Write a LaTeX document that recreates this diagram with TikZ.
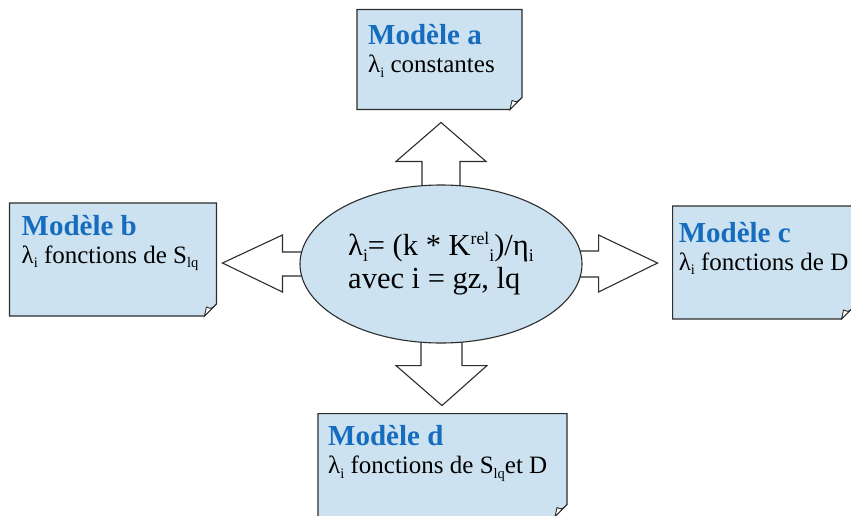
\documentclass[tikz,border=0pt]{standalone}
\usepackage{fontspec}
\setmainfont{Liberation Serif}
\usepackage{xcolor}
\usetikzlibrary{positioning, calc, backgrounds, shapes.geometric}

\definecolor{fondbleu}{RGB}{204,226,240}
\definecolor{titrebleu}{RGB}{22,108,190}
\definecolor{trait}{RGB}{45,45,45}

\newcommand{\modtitre}[1]{{\fontsize{29}{28}\selectfont\bfseries\color{titrebleu}#1}}
\newcommand{\ind}[1]{\raisebox{-0.4ex}{\scalebox{0.58}{#1}}}
\newcommand{\expo}[1]{\raisebox{0.8ex}{\scalebox{0.58}{#1}}}

\begin{document}
\begin{tikzpicture}[
  x=1pt, y=-1pt,
  eq/.style={ellipse, draw=trait, line width=1.1pt, fill=fondbleu, minimum width=282pt, minimum height=158pt, inner sep=0pt, align=left, font=\fontsize{30.5}{33}\selectfont},
  boite/.style={inner sep=0pt, outer sep=0pt},
  txt/.style={anchor=north west, inner sep=0pt, align=left, font=\fontsize{25}{28}\selectfont},
  bord/.style={draw=trait, line width=1.1pt, fill=fondbleu, line join=miter},
  pli/.style={draw=trait, line width=0.9pt, fill=white},
  fleche/.style={draw=trait, line width=1.1pt, fill=white, line join=miter},
]
\useasboundingbox (0,0) rectangle (851,515);
\clip (0,0) rectangle (851,515);

% --- Central node ---
\node[eq] (centre) at (441,264) {λ\ind{i}= (k * K\expo{rel}\ind{i})/η\ind{i}\\avec i = gz, lq};

% --- Model boxes ---
\node[boite, minimum width=165pt, minimum height=100pt, above=75pt of centre, xshift=-1.5pt] (ma) {};
\node[boite, minimum width=207pt, minimum height=113pt, left=83pt of centre, yshift=4.5pt] (mb) {};
\node[boite, minimum width=181pt, minimum height=113pt, right=90pt of centre, yshift=1.5pt] (mc) {};
\node[boite, minimum width=249pt, minimum height=103pt, below=70pt of centre, xshift=1.5pt] (md) {};

% box outline with folded corner
\foreach \b in {ma,mb,mc,md} {
  \draw[bord] (\b.north west) -- (\b.north east) -- ([yshift=12pt]\b.south east) -- ([xshift=-12pt]\b.south east) -- (\b.south west) -- cycle;
  \draw[pli] ([yshift=12pt]\b.south east) .. controls ([xshift=-5pt,yshift=7pt]\b.south east) .. ([xshift=-10pt,yshift=9pt]\b.south east) -- ([xshift=-12pt]\b.south east) -- cycle;
}

% --- Box texts ---
\node[txt] (ta) at ([xshift=11pt,yshift=-15pt]ma.north west) {\modtitre{Modèle a}\\λ\ind{i} constantes};
\node[txt] (tb) at ([xshift=12pt,yshift=-12pt]mb.north west) {\modtitre{Modèle b}\\λ\ind{i} fonctions de S\ind{lq}};
\node[txt] (tc) at ([xshift=6pt,yshift=-16pt]mc.north west) {\modtitre{Modèle c}\\λ\ind{i} fonctions de D};
\node[txt] (td) at ([xshift=10pt,yshift=-12pt]md.north west) {\modtitre{Modèle d}\\λ\ind{i} fonctions de S\ind{lq}et D};

% --- Block arrows (behind the ellipse) ---
\begin{scope}[on background layer]
\draw[fleche, shift={(centre.north)}] (-19,10) -- (-19,-23) -- (-45,-23) -- (0,-62) -- (45,-23) -- (19,-23) -- (19,10) -- cycle;
\draw[fleche, shift={(centre.south)}] (-20,-10) -- (-20,22) -- (-45,22) -- (1,62) -- (46,22) -- (21,22) -- (21,-10) -- cycle;
\draw[fleche, shift={(centre.west)}] (10,-12) -- (-17,-12) -- (-17,-29) -- (-77,-1) -- (-17,28) -- (-17,12) -- (10,12) -- cycle;
\draw[fleche, shift={(centre.east)}] (-10,-13) -- (16,-13) -- (16,-29) -- (75,-1) -- (16,28) -- (16,13) -- (-10,13) -- cycle;
\end{scope}
\end{tikzpicture}
\end{document}
